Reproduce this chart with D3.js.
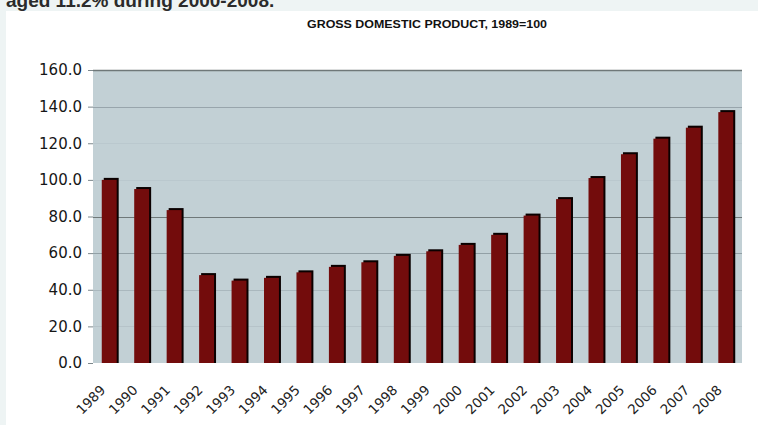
<!DOCTYPE html>
<html>
<head>
<meta charset="utf-8">
<script src="https://cdn.jsdelivr.net/npm/d3@7"></script>
<style>
  body { margin: 0; background: #eef4f4; }
  #chart { width: 758px; height: 425px; }
</style>
</head>
<body>
<div id="chart"></div>
<script>
var years = ["1989", "1990", "1991", "1992", "1993", "1994", "1995", "1996", "1997", "1998",
  "1999", "2000", "2001", "2002", "2003", "2004", "2005", "2006", "2007", "2008"]
var gdpIndex = [100, 95, 83.5, 48, 45, 46.5, 49.5, 52.5, 55, 58.5,
  61, 64.5, 70, 80.5, 89.5, 101, 114, 122.5, 128.5, 137]
var yTicks = [0, 20, 40, 60, 80, 100, 120, 140, 160]
var chartTitle = "GROSS DOMESTIC PRODUCT, 1989=100"
var introText = "aged 11.2% during 2000-2008."

var width = 758,
  height = 425
var margin = { left: 93, right: 16, top: 70, bottom: 62 }

var svg = d3
  .select("#chart")
  .append("svg")
  .attr("width", width)
  .attr("height", height)

// page strip text above the chart box (its top is cut off like in the source)
svg.append("text")
  .attr("x", 6)
  .attr("y", 7)
  .attr("font-family", "Liberation Sans, Arial, sans-serif")
  .attr("font-weight", "bold")
  .attr("font-size", 19)
  .attr("fill", "#2b2b2b")
  .text(introText)

// white chart box
svg.append("rect")
  .attr("x", 6)
  .attr("y", 11)
  .attr("width", width - 6)
  .attr("height", height - 11)
  .attr("fill", "#ffffff")

svg.append("text")
  .attr("x", 427)
  .attr("y", 28)
  .attr("text-anchor", "middle")
  .attr("font-family", "Liberation Sans, Arial, sans-serif")
  .attr("font-weight", "bold")
  .attr("font-size", 10)
  .attr("textLength", 240)
  .attr("lengthAdjust", "spacingAndGlyphs")
  .attr("fill", "#111")
  .text(chartTitle)

var x = d3.scaleBand()
  .domain(years)
  .range([margin.left, width - margin.right])
  .paddingInner(0.54)
  .paddingOuter(0.27)

var y = d3.scaleLinear()
  .domain([0, 160])
  .range([height - margin.bottom, margin.top])

var g = svg.append("g")

g.append("rect")
  .attr("x", margin.left)
  .attr("y", margin.top)
  .attr("width", width - margin.right - margin.left)
  .attr("height", y(0) - margin.top)
  .attr("fill", "#c2d0d5")

// gridlines look uneven in the scanned source, some almost vanish
var gridAlpha = { 20: 0.2, 40: 0.4, 60: 0.8, 80: 1, 100: 0.12, 120: 0.12, 140: 0.7, 160: 1 }

g.selectAll(".grid")
  .data(yTicks.filter(function (d) { return d > 0; }))
  .enter()
  .append("line")
  .attr("class", "grid")
  .attr("x1", margin.left)
  .attr("x2", width - margin.right)
  .attr("y1", function (d) { return Math.round(y(d)) + 0.5; })
  .attr("y2", function (d) { return Math.round(y(d)) + 0.5; })
  .attr("stroke", function (d) { return d == 160 || d == 80 ? "#6f7879" : "#86939a"; })
  .attr("stroke-width", function (d) { return d == 160 ? 1.6 : 1.2; })
  .attr("stroke-opacity", function (d) { return gridAlpha[d]; })

// bar shadow then bar
g.selectAll(".shadow")
  .data(gdpIndex)
  .enter()
  .append("rect")
  .attr("class", "shadow")
  .attr("x", function (d, i) { return x(years[i]) + 2; })
  .attr("y", function (d) { return y(d) - 2; })
  .attr("width", x.bandwidth())
  .attr("height", function (d) { return y(0) - y(d) + 2; })
  .attr("fill", "#0a0000")

g.selectAll(".bar")
  .data(gdpIndex)
  .enter()
  .append("rect")
  .attr("class", "bar")
  .attr("x", function (d, i) { return x(years[i]); })
  .attr("y", function (d) { return y(d); })
  .attr("width", x.bandwidth())
  .attr("height", function (d) { return y(0) - y(d); })
  .attr("fill", "#730c0c")

var yAxis = d3.axisLeft(y)
  .tickValues(yTicks)
  .tickSize(5)
  .tickPadding(6)
  .tickFormat(d3.format(".1f"))

var yg = g.append("g")
  .attr("transform", "translate(" + margin.left + ",0)")
  .call(yAxis)
  .call(function (a) { a.select(".domain").remove(); })
yg.selectAll("line").attr("stroke", "#7d888c")
yg.selectAll("text")
  .attr("font-family", "DejaVu Sans, sans-serif")
  .attr("font-size", 15)
  .attr("fill", "#161616")

var xAxis = d3.axisBottom(x).tickSize(0)

g.append("g")
  .attr("transform", "translate(0," + y(0) + ")")
  .call(xAxis)
  .call(function (a) { a.select(".domain").remove(); })
  .selectAll("text")
  .attr("font-family", "DejaVu Sans, sans-serif")
  .attr("font-size", 13.5)
  .attr("fill", "#222")
  .attr("text-anchor", "end")
  .attr("y", 0)
  .attr("dy", 0)
  .attr("transform", "translate(-3,28) rotate(-45)")
</script>
</body>
</html>
